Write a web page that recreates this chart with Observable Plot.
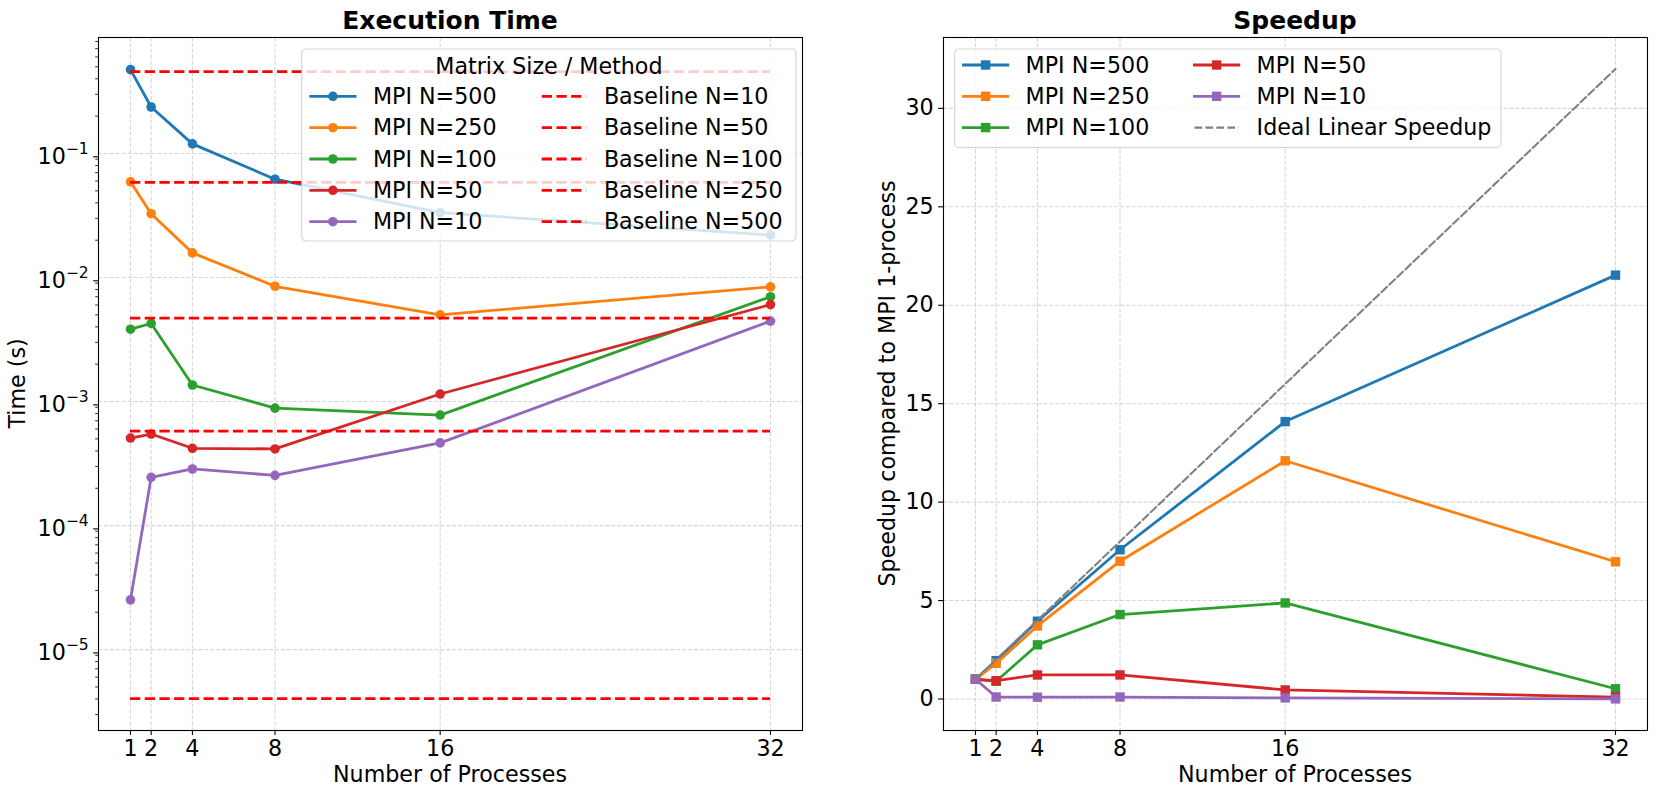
<!DOCTYPE html>
<html><head><meta charset="utf-8">
<script src="https://cdn.jsdelivr.net/npm/d3@7"></script>
<script src="https://cdn.jsdelivr.net/npm/@observablehq/plot@0.6"></script>
<style>
body{margin:0;background:#fff;}
#wrap{position:relative;width:1657px;height:795px;background:#fff;overflow:hidden;}
#wrap svg{position:absolute;top:0;}
</style></head><body><div id="wrap"></div>
<script>
// ---------- data ----------
const procs = [1, 2, 4, 8, 16, 32];
const sizes = [500, 250, 100, 50, 10];
const colors = ["#1f77b4", "#ff7f0e", "#2ca02c", "#d62728", "#9467bd"];

const time500 = [0.474, 0.237, 0.1195, 0.062, 0.0333, 0.0220];
const time250 = [0.0591, 0.0327, 0.0158, 0.0085, 0.0050, 0.0084];
const time100 = [0.00383, 0.00426, 0.00136, 0.000885, 0.000778, 0.0070];
const time50  = [0.000508, 0.000547, 0.00042, 0.000415, 0.00115, 0.00605];
const time10  = [2.52e-5, 0.000245, 0.000286, 0.000254, 0.000464, 0.00445];

const baselineSizes = [10, 50, 100, 250, 500];
const baselineTimes = [4.03e-6, 0.000578, 0.0047, 0.0585, 0.457];

const speedup500 = [1, 1.95, 3.95, 7.58, 14.09, 21.53];
const speedup250 = [1, 1.81, 3.71, 7.0, 12.1, 6.97];
const speedup100 = [1, 0.9, 2.75, 4.29, 4.88, 0.52];
const speedup50  = [1, 0.93, 1.22, 1.22, 0.46, 0.1];
const speedup10  = [1, 0.1, 0.09, 0.1, 0.055, 0.006];
const idealSpeedup = [1, 2, 4, 8, 16, 32];

const timeTicks = [1e-5, 1e-4, 1e-3, 1e-2, 1e-1];
const speedTicks = [0, 5, 10, 15, 20, 25, 30];

// ---------- build ----------
const timeSeries = [time500, time250, time100, time50, time10];
const speedSeries = [speedup500, speedup250, speedup100, speedup50, speedup10];
const FS = 22.2;
const FONT = "DejaVu Sans";
const grid = {stroke: "#b0b0b0", strokeOpacity: 0.5, strokeWidth: 1.1, strokeDasharray: "4.1,1.8"};
const yLogDomain = [Math.pow(10, -5.652), Math.pow(10, -0.065)];
const minorTicks = [];
[1e-6, 1e-5, 1e-4, 1e-3, 1e-2, 1e-1].forEach(d => {
  for (let k = 2; k <= 9; k++) { const v = d * k; if (v >= yLogDomain[0] && v <= yLogDomain[1]) minorTicks.push(v); }
});

const wrap = document.getElementById("wrap");

// Left panel
const leftMarks = [
  Plot.ruleX(procs, {x: d => d, ...grid}),
  Plot.ruleY(timeTicks, {y: d => d, ...grid})
];
sizes.forEach((n, i) => {
  const rows = procs.map((p, j) => ({procs: p, time: timeSeries[i][j]}));
  leftMarks.push(Plot.line(rows, {x: "procs", y: "time", stroke: colors[i], strokeWidth: 2.78}));
  leftMarks.push(Plot.dot(rows, {x: "procs", y: "time", fill: colors[i], r: 4.8}));
});
baselineSizes.forEach((n, i) => {
  leftMarks.push(Plot.ruleY([{t: baselineTimes[i], a: procs[0], b: procs[procs.length - 1]}],
    {y: "t", x1: "a", x2: "b", stroke: "red", strokeWidth: 2.78, strokeDasharray: "10.3,4.4"}));
});
leftMarks.push(
  Plot.axisX({ticks: procs, tickSize: 4.9, tickPadding: 4.9, tickFormat: d => String(d), fontSize: FS, label: null, strokeWidth: 1.1}),
  Plot.axisY({ticks: timeTicks, tickSize: 4.9, tickPadding: 4.9, tickFormat: d => "10^" + Math.round(Math.log10(d)), fontSize: FS, label: null, dy: 3.3, strokeWidth: 1.1}),
  Plot.axisY({ticks: minorTicks, tickSize: 2.8, tickFormat: () => "", label: null, strokeWidth: 0.83}),
  Plot.frame({stroke: "black", strokeWidth: 1.1})
);
const left = Plot.plot({
  width: 828, height: 795,
  marginLeft: 98, marginRight: 26, marginTop: 37, marginBottom: 65,
  x: {domain: [-0.55, 33.55]},
  y: {type: "log", domain: yLogDomain},
  style: {fontFamily: FONT, fontSize: FS + "px", color: "black", background: "transparent", overflow: "visible"},
  marks: leftMarks
});
left.style.left = "0px";
wrap.appendChild(left);
d3.select(left).selectAll('g[aria-label="y-axis tick label"] text').each(function () {
  const t = this.textContent;
  if (!t.includes("^")) return;
  const [base, exp] = t.split("^");
  const sel = d3.select(this);
  sel.text(null);
  sel.append("tspan").text(base);
  sel.append("tspan").attr("dy", -10).attr("font-size", FS * 0.7).text(exp.replace("-", "\u2212"));
});

// Right panel
const rightMarks = [
  Plot.ruleX(procs, {x: d => d, ...grid}),
  Plot.ruleY(speedTicks, {y: d => d, ...grid})
];
sizes.forEach((n, i) => {
  const rows = procs.map((p, j) => ({procs: p, s: speedSeries[i][j]}));
  rightMarks.push(Plot.line(rows, {x: "procs", y: "s", stroke: colors[i], strokeWidth: 2.78}));
  rightMarks.push(Plot.dot(rows, {x: "procs", y: "s", fill: colors[i], symbol: "square", r: 5.3}));
});
rightMarks.push(
  Plot.line(procs.map((p, j) => ({procs: p, s: idealSpeedup[j]})), {x: "procs", y: "s", stroke: "gray", strokeWidth: 2.08, strokeDasharray: "7.7,3.3"}),
  Plot.axisX({ticks: procs, tickSize: 4.9, tickPadding: 4.9, tickFormat: d => String(d), fontSize: FS, label: null, strokeWidth: 1.1}),
  Plot.axisY({ticks: speedTicks, tickSize: 4.9, tickPadding: 4.9, tickFormat: d => String(d), fontSize: FS, label: null, strokeWidth: 1.1}),
  Plot.frame({stroke: "black", strokeWidth: 1.1})
);
const right = Plot.plot({
  width: 829, height: 795,
  marginLeft: 115, marginRight: 10, marginTop: 37, marginBottom: 65,
  x: {domain: [-0.55, 33.55]},
  y: {domain: [-1.6, 33.6]},
  style: {fontFamily: FONT, fontSize: FS + "px", color: "black", background: "transparent", overflow: "visible"},
  marks: rightMarks
});
right.style.left = "828px";
wrap.appendChild(right);

// ---------- overlay: titles, axis labels, legends ----------
const ov = d3.create("svg").attr("width", 1657).attr("height", 795)
  .style("left", "0px").style("pointer-events", "none")
  .attr("font-family", FONT).attr("font-size", FS).attr("fill", "black");
const txt = (x, y, s, opts = {}) => {
  const t = ov.append("text").attr("x", x).attr("y", y).text(s);
  Object.entries(opts).forEach(([k, v]) => t.attr(k, v));
  return t;
};
txt(450, 29, "Execution Time", {"text-anchor": "middle", "font-weight": "bold", "font-size": 25});
txt(1295, 29, "Speedup", {"text-anchor": "middle", "font-weight": "bold", "font-size": 25});
txt(450, 782.3, "Number of Processes", {"text-anchor": "middle"});
txt(1295, 782.3, "Number of Processes", {"text-anchor": "middle"});
txt(0, 0, "Time (s)", {"text-anchor": "middle", transform: "translate(24.5,383.5) rotate(-90)"});
txt(0, 0, "Speedup compared to MPI 1-process", {"text-anchor": "middle", transform: "translate(894.5,383.5) rotate(-90)"});

// Left legend
ov.append("rect").attr("x", 301.7).attr("y", 49).attr("width", 494.3).attr("height", 192).attr("rx", 4.4)
  .attr("fill", "white").attr("fill-opacity", 0.8).attr("stroke", "#cccccc").attr("stroke-opacity", 0.8).attr("stroke-width", 1.2);
txt(548.9, 74.3, "Matrix Size / Method", {"text-anchor": "middle"});
const rowsL = [96.3, 127.7, 159, 190.3, 221.7];
sizes.forEach((n, i) => {
  const y = rowsL[i];
  ov.append("line").attr("x1", 310.7).attr("x2", 355.1).attr("y1", y).attr("y2", y)
    .attr("stroke", colors[i]).attr("stroke-width", 2.78).attr("stroke-linecap", "square");
  ov.append("circle").attr("cx", 332.9).attr("cy", y).attr("r", 4.8).attr("fill", colors[i]);
  txt(372.9, y + 7.7, "MPI N=" + n);
});
baselineSizes.forEach((n, i) => {
  const y = rowsL[i];
  ov.append("line").attr("x1", 541.7).attr("x2", 586.1).attr("y1", y).attr("y2", y)
    .attr("stroke", "red").attr("stroke-width", 2.78).attr("stroke-dasharray", "10.3,4.4");
  txt(603.9, y + 7.7, "Baseline N=" + n);
});

// Right legend
ov.append("rect").attr("x", 954.6).attr("y", 49).attr("width", 546.4).attr("height", 98.7).attr("rx", 4.4)
  .attr("fill", "white").attr("fill-opacity", 0.8).attr("stroke", "#cccccc").attr("stroke-opacity", 0.8).attr("stroke-width", 1.2);
const rowsR = [65, 96.3, 127.6];
const rightEntries = sizes.map((n, i) => ({label: "MPI N=" + n, color: colors[i], marker: true}))
  .concat([{label: "Ideal Linear Speedup", color: "gray", marker: false}]);
rightEntries.forEach((e, k) => {
  const col = Math.floor(k / 3), y = rowsR[k % 3];
  const x0 = col === 0 ? 963.4 : 1194.4;
  const ln = ov.append("line").attr("x1", x0).attr("x2", x0 + 44.4).attr("y1", y).attr("y2", y).attr("stroke", e.color);
  if (e.marker) {
    ln.attr("stroke-width", 2.78).attr("stroke-linecap", "square");
    ov.append("rect").attr("x", x0 + 22.2 - 4.7).attr("y", y - 4.7).attr("width", 9.4).attr("height", 9.4).attr("fill", e.color);
  } else {
    ln.attr("stroke-width", 2.08).attr("stroke-dasharray", "7.7,3.3");
  }
  txt(x0 + 62.2, y + 7.7, e.label);
});
wrap.appendChild(ov.node());
</script></body></html>
